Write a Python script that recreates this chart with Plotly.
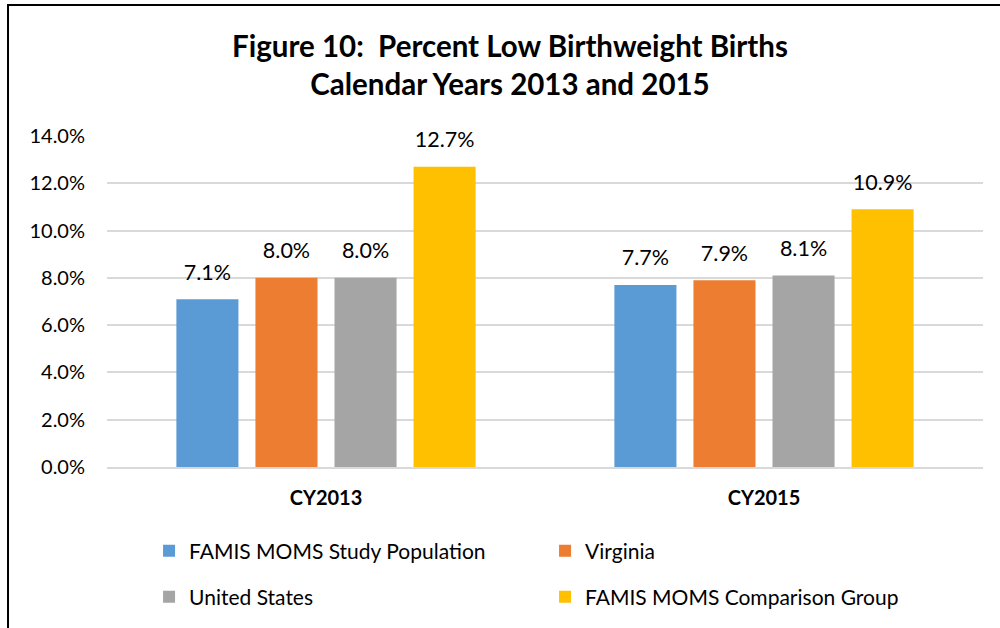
import plotly.graph_objects as go

years = ['CY2013', 'CY2015']
study_pop = [7.1, 7.7]
virginia = [8.0, 7.9]
united_states = [8.0, 8.1]
comparison = [12.7, 10.9]

series = [
    ('FAMIS MOMS Study Population', study_pop, '#5B9BD5', 'legend'),
    ('Virginia', virginia, '#ED7D31', 'legend'),
    ('United States', united_states, '#A5A5A5', 'legend2'),
    ('FAMIS MOMS Comparison Group', comparison, '#FFC000', 'legend2'),
]

font_family = 'Lato, "Open Sans", sans-serif'

fig = go.Figure()
for name, vals, color, leg in series:
    fig.add_trace(go.Bar(
        x=years, y=vals, name=name,
        marker=dict(color=color, line_width=0),
        legend=leg,
    ))

# value labels: grouped scatter text sitting above each bar
for name, vals, color, leg in series:
    fig.add_trace(go.Scatter(
        x=years, y=vals, mode='markers+text',
        text=[f'{v:.1f}%' for v in vals],
        textposition='top center',
        textfont=dict(size=21.5, color='#000000', family=font_family),
        marker=dict(size=21, opacity=0),
        showlegend=False, hoverinfo='skip', cliponaxis=False,
    ))

fig.update_layout(
    width=1000, height=628,
    margin=dict(l=107, r=17, t=136, b=161, autoexpand=False),
    paper_bgcolor='white', plot_bgcolor='white',
    font=dict(family=font_family, color='#000000'),
    title=dict(
        text='<b>Figure 10:&nbsp; Percent Low Birthweight Births<br>Calendar Years 2013 and 2015</b>',
        xref='container', x=0.51, xanchor='center', yref='container', y=0.909, yanchor='middle',
        font=dict(size=29.5, color='#000000'),
    ),
    barmode='group', bargap=0.278, bargroupgap=0.215,
    scattermode='group', scattergap=0.278,
    xaxis=dict(
        showgrid=False, showline=True, linecolor='#D9D9D9', linewidth=2,
        tickfont=dict(size=20, color='#000000'),
        ticklabelstandoff=12, automargin=False,
        tickprefix='<b>', ticksuffix='</b>',
    ),
    yaxis=dict(
        range=[0, 14], dtick=2, tickformat='.1f', ticksuffix='%',
        showgrid=True, gridcolor='#D9D9D9', gridwidth=2,
        zeroline=False, showline=False,
        tickfont=dict(size=20, color='#000000'),
        ticklabelstandoff=21, automargin=False,
    ),
    legend=dict(
        orientation='h', x=0.048, xanchor='left', y=-0.254, yanchor='middle',
        entrywidth=351, entrywidthmode='pixels',
        font=dict(size=21, color='#000000'),
        bgcolor='rgba(0,0,0,0)',
    ),
    legend2=dict(
        orientation='h', x=0.048, xanchor='left', y=-0.393, yanchor='middle',
        entrywidth=351, entrywidthmode='pixels',
        font=dict(size=21, color='#000000'),
        bgcolor='rgba(0,0,0,0)',
    ),
    shapes=[dict(
        type='rect', xref='paper', yref='paper',
        x0=-0.113, x1=1.2, y0=-0.8, y1=1.396,
        line=dict(color='#000000', width=2), layer='above',
    )],
)

# drop the browser's default 8px page margin so the figure sits at the corner
fig.write_html('out.html', config={'displayModeBar': False},
               post_script="document.body.style.margin='0px';")
